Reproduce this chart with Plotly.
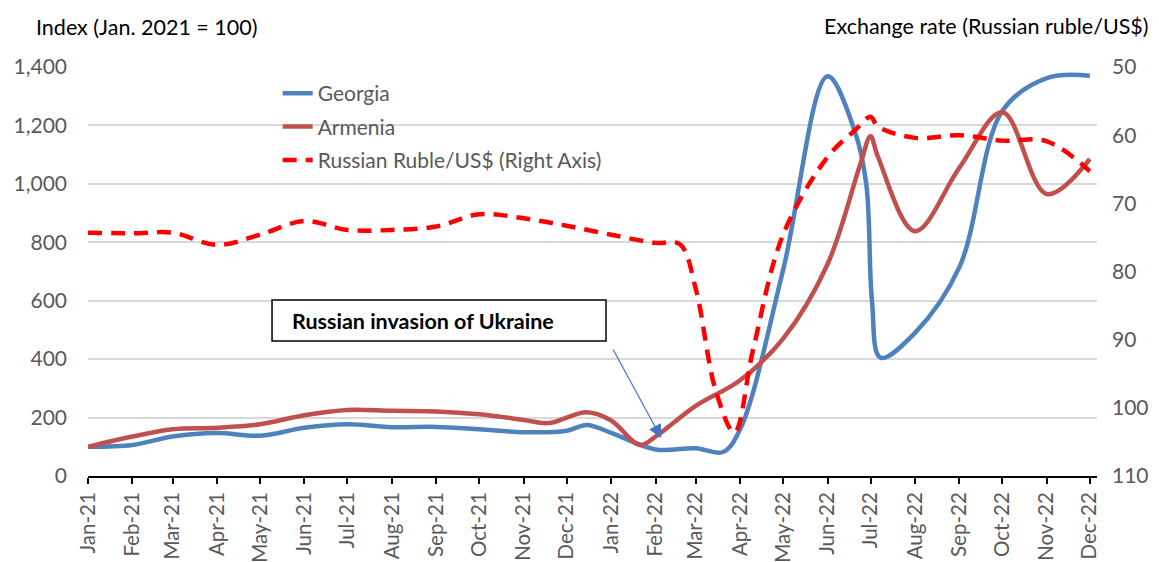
import plotly.graph_objects as go

# ---- data ----
georgia_dates = ["2021-01-01", "2021-02-01", "2021-03-01", "2021-04-01", "2021-05-01", "2021-06-01",
                 "2021-07-01", "2021-08-01", "2021-09-01", "2021-10-01", "2021-11-01", "2021-12-01",
                 "2021-12-15", "2022-01-01", "2022-02-01", "2022-03-01", "2022-03-20", "2022-04-01",
                 "2022-05-01", "2022-06-01", "2022-06-20", "2022-06-28", "2022-07-02", "2022-07-08",
                 "2022-08-01", "2022-09-01", "2022-10-01", "2022-11-01", "2022-12-01"]
georgia_vals = [100, 106, 135, 147, 138, 165,
                177, 167, 168, 160, 150, 155,
                175, 148, 91, 95, 82, 160,
                705, 1368, 1180, 1000, 600, 405,
                490, 715, 1250, 1362, 1370]

armenia_dates = ["2021-01-01", "2021-02-01", "2021-03-01", "2021-04-01", "2021-05-01", "2021-06-01",
                 "2021-07-01", "2021-08-01", "2021-09-01", "2021-10-01", "2021-11-01", "2021-11-18",
                 "2021-12-15", "2022-01-01", "2022-01-21", "2022-02-01", "2022-03-01", "2022-04-01",
                 "2022-05-01", "2022-06-01", "2022-06-24", "2022-07-01", "2022-07-06", "2022-08-01",
                 "2022-09-01", "2022-10-01", "2022-11-01", "2022-12-01"]
armenia_vals = [100, 135, 160, 165, 177, 208,
                226, 223, 221, 211, 192, 181,
                218, 190, 106, 135, 240, 328,
                470, 725, 1070, 1163, 1095, 838,
                1055, 1245, 965, 1085]

ruble_dates = ["2021-01-01", "2021-02-01", "2021-03-01", "2021-04-01", "2021-05-01", "2021-06-01",
               "2021-07-01", "2021-08-01", "2021-09-01", "2021-10-01", "2021-11-01", "2021-12-01",
               "2022-01-01", "2022-02-01", "2022-02-18", "2022-03-01", "2022-03-15", "2022-03-28",
               "2022-04-10", "2022-05-01", "2022-06-01", "2022-06-20", "2022-07-01", "2022-07-06",
               "2022-08-01", "2022-09-01", "2022-10-01", "2022-11-01", "2022-12-01"]
ruble_vals = [74.3, 74.4, 74.3, 76.1, 74.6, 72.6,
              73.9, 73.9, 73.4, 71.6, 72.2, 73.3,
              74.6, 75.8, 76.0, 82.5, 97.5, 103.6,
              91.5, 74.6, 63.2, 59.3, 57.3, 58.7,
              60.4, 60.0, 60.8, 60.9, 65.3]

left_title = "Index (Jan. 2021 = 100)"
right_title = "Exchange rate (Russian ruble/US$)"
event_label = "Russian invasion of Ukraine"
event_date = "2022-02-05"
event_level = 130

FONT = "Lato"
GRAY = "#595959"

fig = go.Figure()
fig.add_trace(go.Scatter(x=georgia_dates, y=georgia_vals, name="Georgia", mode="lines",
                         line=dict(color="#4F81BD", width=4.5, shape="spline", smoothing=1.0),
                         legendgroup="g1"))
fig.add_trace(go.Scatter(x=armenia_dates, y=armenia_vals, name="Armenia", mode="lines",
                         line=dict(color="#C0504D", width=4.5, shape="spline", smoothing=1.0),
                         legendgroup="g2"))
fig.add_trace(go.Scatter(x=ruble_dates, y=ruble_vals, name="Russian Ruble/US$ (Right Axis)", mode="lines",
                         line=dict(color="#FF0000", width=4.5, dash="14px,9px", shape="spline", smoothing=1.0),
                         yaxis="y2", legendgroup="g3"))

fig.update_layout(
    width=1151, height=554,
    margin=dict(l=80, r=62, t=59, b=86, autoexpand=False),
    paper_bgcolor="white", plot_bgcolor="white",
    font=dict(family=FONT, color=GRAY, size=20),
    showlegend=True,
    legend=dict(x=0.188, y=0.985, xanchor="left", yanchor="top", bgcolor="rgba(0,0,0,0)",
                font=dict(size=21, color=GRAY), tracegroupgap=3, itemwidth=30),
    xaxis=dict(type="date", range=["2021-01-01", "2022-12-06"], tick0="2021-01-01", dtick="M1",
               tickformat="%b-%y", tickangle=-90, showgrid=False, showline=True, automargin=False,
               linecolor="black", linewidth=2, ticks="outside", ticklen=6, tickwidth=2,
               tickcolor="black", tickfont=dict(size=20.5, color=GRAY)),
    yaxis=dict(range=[0, 1400], dtick=200, tickformat=",", showgrid=True, gridcolor="#D9D9D9",
               gridwidth=1.5, zeroline=False, showline=False, ticks="", automargin=False,
               tickfont=dict(size=21, color=GRAY), ticklabelstandoff=20),
    yaxis2=dict(range=[110, 50], dtick=10, overlaying="y", side="right", showgrid=False,
                zeroline=False, showline=False, ticks="", automargin=False,
                tickfont=dict(size=21, color=GRAY), ticklabelstandoff=14),
)

# axis titles
fig.add_annotation(text=left_title, xref="paper", yref="paper", x=-0.054, y=1.06,
                   xanchor="left", yanchor="bottom", showarrow=False,
                   font=dict(size=21.5, color="black", family=FONT))
fig.add_annotation(text=right_title, xref="paper", yref="paper", x=1.054, y=1.064,
                   xanchor="right", yanchor="bottom", showarrow=False,
                   font=dict(size=21.5, color="black", family=FONT))

# event box
fig.add_shape(type="rect", xref="paper", yref="paper", x0=0.1824, x1=0.5134, y0=0.330, y1=0.4303,
              line=dict(color="black", width=1.5), fillcolor="white", layer="above")
fig.add_annotation(text="<b>" + event_label + "</b>", xref="paper", yref="paper", x=0.2002, y=0.378,
                   xanchor="left", yanchor="middle", showarrow=False,
                   font=dict(size=21.5, color="black", family=FONT))
# arrow
fig.add_annotation(text="", x=event_date, y=event_level, xref="x", yref="y",
                   ax=-49, ay=-90, showarrow=True, arrowhead=2, arrowsize=2.2, arrowwidth=1.2,
                   arrowcolor="#4472C4", standoff=0)

fig.write_html("out.html")
